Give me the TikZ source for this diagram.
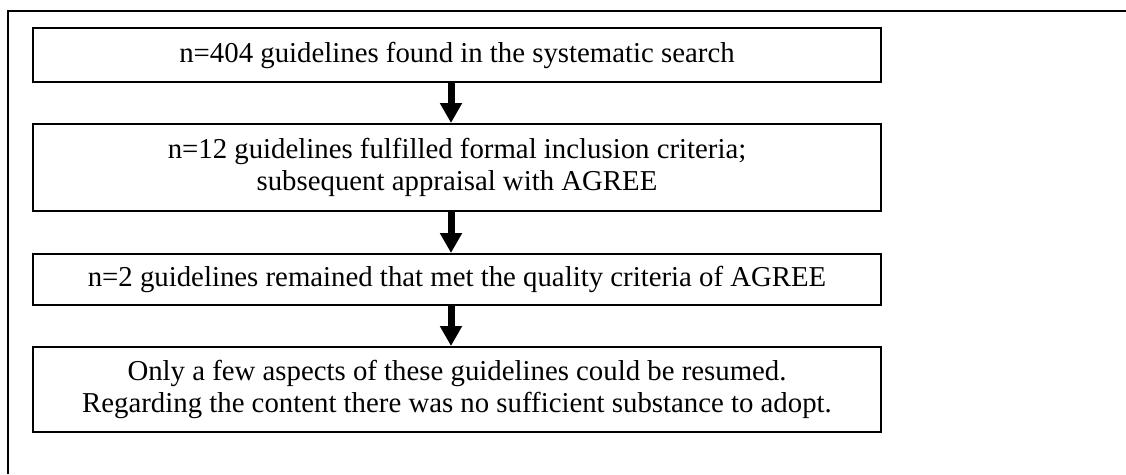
\documentclass[tikz,border=0pt]{standalone}
\usepackage{fontspec}
\setmainfont{Liberation Serif}
\usetikzlibrary{arrows.meta}
\tikzset{
  stepbox/.style={draw=black, line width=2pt, minimum width=848pt, inner sep=0pt, align=center,
    font=\fontsize{28.8}{32}\selectfont},
  flowarrow/.style={line width=7pt, -{Triangle[width=21pt,length=20pt]}},
  frame/.style={line width=2pt}
}
\begin{document}
\begin{tikzpicture}[x=1pt,y=-1pt]
\useasboundingbox (0,0) rectangle (1126,474);
\draw[frame] (7.5,474) -- (7.5,11) -- (1126,11);
\node[stepbox, minimum height=54pt] (b1) at (457,55) {n=404 guidelines found in the systematic search};
\node[stepbox, minimum height=87pt] (b2) at (457,167.5) {n=12 guidelines fulfilled formal inclusion criteria;\\ subsequent appraisal with AGREE};
\node[stepbox, minimum height=51pt] (b3) at (457,279.5) {n=2 guidelines remained that met the quality criteria of AGREE};
\node[stepbox, minimum height=85pt] (b4) at (457,389.5) {Only a few aspects of these guidelines could be resumed.\\ Regarding the content there was no sufficient substance to adopt.};
\coordinate (ax) at (451,0);
\draw[flowarrow] (b1.south -| ax) -- (b2.north -| ax);
\draw[flowarrow] (b2.south -| ax) -- (b3.north -| ax);
\draw[flowarrow] (b3.south -| ax) -- (b4.north -| ax);
\end{tikzpicture}
\end{document}
